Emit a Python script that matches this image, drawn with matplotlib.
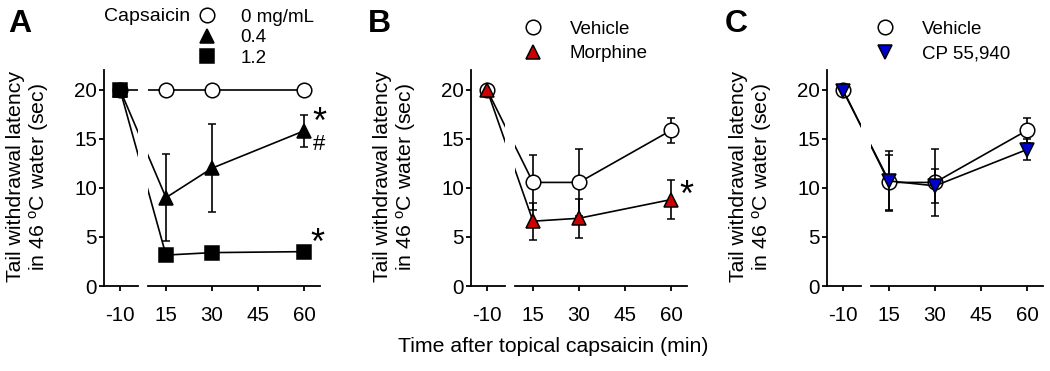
import numpy as np
import matplotlib.pyplot as plt
from matplotlib.lines import Line2D

plt.rcParams["font.family"] = ["Liberation Sans", "DejaVu Sans"]
plt.rcParams["mathtext.default"] = "regular"

# ---- data (mean +/- SEM), time in minutes ----
time_min = [-10, 15, 30, 60]
xtick_times = [-10, 15, 30, 45, 60]
yticks = [0, 5, 10, 15, 20]

# panel A: capsaicin dose
caps_labels = ["0 mg/mL", "0.4", "1.2"]
caps0_mean = [20, 20, 20, 20]
caps0_sem = [0, 0, 0, 0]
caps04_mean = [20, 9.0, 12.0, 15.8]
caps04_sem = [0, 4.4, 4.5, 1.65]
caps12_mean = [20, 3.15, 3.4, 3.5]
caps12_sem = [0, 0.3, 0.3, 0.3]

# panel B: morphine
vehicle_mean = [20, 10.55, 10.55, 15.85]
vehicle_sem = [0, 2.77, 3.4, 1.3]
morphine_mean = [20, 6.6, 6.9, 8.8]
morphine_sem = [0, 1.9, 2.0, 2.0]

# panel C: CP 55,940
cp_mean = [19.9, 10.7, 10.2, 13.9]
cp_sem = [0, 3.05, 1.7, 1.1]

W, H = 1050, 371
fig = plt.figure(figsize=(W / 100, H / 100), dpi=100)

PX = 46 / 15.0          # pixels per minute on the x axis
Y_BOT, Y_TOP = 286, 70  # pixel rows of y=0 and the axis top
TICK_FS = 14.8
LEG_FS = 13.5
LW = 1.2


def xpos(t):
    # baseline (-10 min) is drawn just left of the axis break
    return [0 if v == -10 else v for v in t]


def px_box(x0, x1):
    return [x0 / W, 1 - Y_BOT / H, (x1 - x0) / W, (Y_BOT - Y_TOP) / H]


def make_axes(L):
    axL = fig.add_axes(px_box(L, L + 34))
    axR = fig.add_axes(px_box(L + 44, L + 216))
    axL.set_xlim(-16 / PX, 18 / PX)
    axR.set_xlim(15 - 18 / PX, 15 + 154 / PX)
    for ax in (axL, axR):
        ax.set_ylim(0, 22)
        ax.spines["top"].set_visible(False)
        ax.spines["right"].set_visible(False)
        ax.spines["bottom"].set_linewidth(1.3)
        ax.spines["left"].set_linewidth(1.3)
        ax.tick_params(axis="x", direction="out", length=3.6, width=1.3,
                       pad=10.5, labelsize=TICK_FS)
        ax.tick_params(axis="y", direction="out", length=3.6, width=1.3,
                       pad=1.5, labelsize=TICK_FS)
        ax.patch.set_alpha(0)
    axL.set_xticks([0])
    axL.set_xticklabels([str(xtick_times[0])])
    axL.set_yticks(yticks)
    axR.set_xticks(xtick_times[1:])
    axR.set_yticks([])
    axR.spines["left"].set_visible(False)
    fig.text((L - 75.5) / W, 1 - 177 / H,
             "Tail withdrawal latency\nin 46 $^{o}$C water (sec)",
             rotation=90, ha="center", va="center", ma="center",
             fontsize=15.3, linespacing=1.1)
    return axL, axR


def draw_series(axes, mean, sem, marker, face, z):
    for ax in axes:
        ax.errorbar(xpos(time_min), mean, yerr=sem, fmt="-", color="black",
                    lw=LW, elinewidth=LW, capsize=3.2, capthick=LW,
                    marker=marker, ms=10.5, mfc=face, mec="black", mew=1.1,
                    zorder=z)


def legend(ax, handles, labels, x0, top, pad, spacing):
    ax.legend(handles, labels, loc="upper left",
              bbox_to_anchor=(x0 / W, 1 - top / H), bbox_transform=fig.transFigure,
              frameon=False, borderpad=0, borderaxespad=0, handlelength=1.0,
              handletextpad=pad, labelspacing=spacing, fontsize=LEG_FS,
              numpoints=1)


def h(marker, face):
    return Line2D([], [], ls="none", marker=marker, ms=10.5, mfc=face,
                  mec="black", mew=1.1)


def star(ax, x, y, dx, dy, s="*", fs=26, va="center"):
    ax.annotate(s, xy=(x, y), xytext=(dx, dy), textcoords="offset points",
                ha="center", va=va, fontsize=fs, annotation_clip=False)


# ---- panel A ----
axA = make_axes(104)
draw_series(axA, caps0_mean, caps0_sem, "o", "white", 3)
draw_series(axA, caps04_mean, caps04_sem, "^", "black", 4)
draw_series(axA, caps12_mean, caps12_sem, "s", "black", 5)
legend(axA[1], [h("o", "white"), h("^", "black"), h("s", "black")],
       caps_labels, 198, 8.5, 1.27, 0.18)
fig.text(104 / W, 1 - 21 / H, "Capsaicin", fontsize=14, ha="left", va="baseline")
star(axA[1], 60, caps04_mean[3], 10.8, 5)
star(axA[1], 60, caps04_mean[3], 10.8, -2, s="#", fs=16, va="top")
star(axA[1], 60, caps12_mean[3], 9.4, 5.5)

# ---- panel B ----
axB = make_axes(471)
draw_series(axB, vehicle_mean, vehicle_sem, "o", "white", 3)
draw_series(axB, morphine_mean, morphine_sem, "^", "#cc0000", 4)
legend(axB[1], [h("o", "white"), h("^", "#cc0000")],
       ["Vehicle", "Morphine"], 524, 20.5, 1.44, 0.39)
star(axB[1], 60, morphine_mean[3], 11, 2)

# ---- panel C ----
axC = make_axes(827)
draw_series(axC, vehicle_mean, vehicle_sem, "o", "white", 3)
draw_series(axC, cp_mean, cp_sem, "v", "#0000cc", 4)
legend(axC[1], [h("o", "white"), h("v", "#0000cc")],
       ["Vehicle", "CP 55,940"], 876, 20.5, 1.44, 0.39)

# panel letters and shared x label
for letter, x in zip("ABC", [8, 368, 725]):
    fig.text(x / W, 1 - 32 / H, letter, fontsize=23, fontweight="bold",
             ha="left", va="baseline")
fig.text(553 / W, 1 - 347 / H, "Time after topical capsaicin (min)",
         fontsize=15.3, ha="center", va="center")

fig.savefig("out.png", dpi=100)
